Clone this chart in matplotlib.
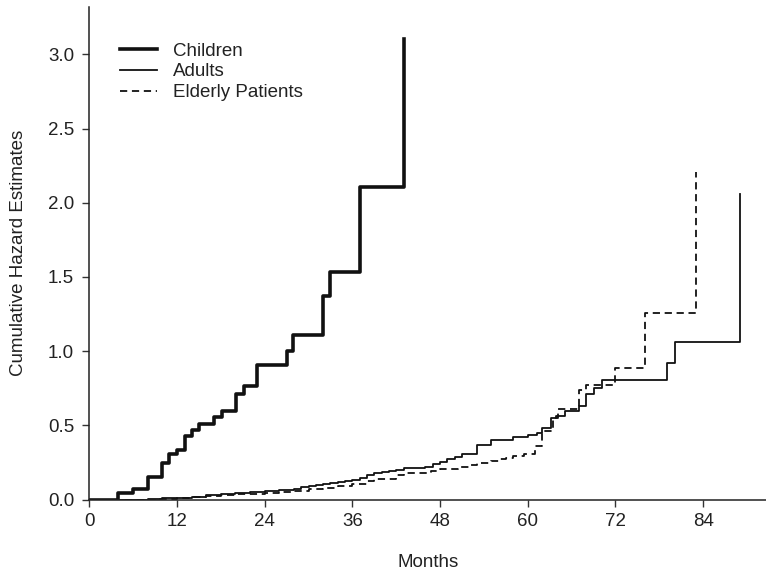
import matplotlib
matplotlib.use("Agg")
import matplotlib.pyplot as plt

plt.rcParams['font.family'] = ['Liberation Sans', 'DejaVu Sans']

# Cumulative hazard step functions (months, estimate after each step)
children_t = [0, 3.9, 6.0, 8.0, 10.0, 10.9, 12.0, 13.1, 14.1, 15.0, 17.1, 18.1,
              20.1, 21.1, 23.0, 27.1, 27.9, 32.0, 33.0, 37.0, 43.0]
children_h = [0.0, 0.042, 0.069, 0.15, 0.248, 0.305, 0.334, 0.43, 0.469, 0.507,
              0.555, 0.599, 0.71, 0.766, 0.908, 1.004, 1.11, 1.369, 1.537, 2.104, 3.105]

adults_t = [0, 8, 10, 12, 14, 16, 18, 20, 22, 24, 26, 28, 29, 30, 31, 32, 33, 34,
            35, 36, 37, 38, 39, 40, 41, 42, 43, 44, 46, 47, 48, 49, 50, 51, 53,
            55, 58, 60, 61.2, 62, 63.2, 63.9, 65.1, 67, 67.9, 69, 70.1, 79.1, 80.1, 89]
adults_h = [0.0, 0.003, 0.008, 0.013, 0.02, 0.028, 0.035, 0.041, 0.048, 0.055,
            0.062, 0.07, 0.085, 0.092, 0.098, 0.104, 0.11, 0.117, 0.124, 0.13,
            0.145, 0.165, 0.178, 0.186, 0.194, 0.2, 0.21, 0.214, 0.222, 0.24,
            0.255, 0.27, 0.285, 0.31, 0.365, 0.40, 0.42, 0.433, 0.45, 0.48,
            0.548, 0.566, 0.597, 0.63, 0.71, 0.75, 0.806, 0.919, 1.063, 2.061]

elderly_t = [0, 9, 12, 14, 16, 18, 20, 22, 24, 26, 28, 30, 32, 34, 36, 38, 39,
             42, 43, 46.8, 48, 50.5, 52, 53, 55, 56, 57, 58, 59.5, 61, 62, 63.4,
             64.2, 67, 68, 72, 76, 83]
elderly_h = [0.0, 0.003, 0.01, 0.016, 0.022, 0.028, 0.034, 0.04, 0.046, 0.052,
             0.06, 0.068, 0.078, 0.088, 0.103, 0.125, 0.138, 0.165, 0.18, 0.194,
             0.206, 0.22, 0.235, 0.244, 0.26, 0.27, 0.28, 0.29, 0.31, 0.36, 0.46,
             0.55, 0.61, 0.739, 0.77, 0.885, 1.26, 2.205]

x_ticks = [0, 12, 24, 36, 48, 60, 72, 84]
y_ticks = [0.0, 0.5, 1.0, 1.5, 2.0, 2.5, 3.0]

ink = '#111111'
fs = 13.5

fig = plt.figure(figsize=(7.66, 5.75), dpi=100)
ax = fig.add_axes([0.1166, 0.1313, 0.8834, 0.8565])

ax.step(children_t, children_h, where='post', color=ink, lw=2.6, label='Children')
ax.step(adults_t, adults_h, where='post', color=ink, lw=1.3, label='Adults')
ax.step(elderly_t, elderly_h, where='post', color=ink, lw=1.3,
        linestyle=(0, (4.0, 2.6)), label='Elderly Patients')

ax.set_xlim(0, 92.6)
ax.set_ylim(0, 3.32)
ax.set_xticks(x_ticks)
ax.set_yticks(y_ticks)
ax.set_xticklabels([str(v) for v in x_ticks], fontsize=fs, color='#222222')
ax.set_yticklabels([f'{v:.1f}' for v in y_ticks], fontsize=fs, color='#222222')
ax.tick_params(axis='both', direction='out', length=5, width=1.0, color='#333333')
ax.tick_params(axis='y', pad=6)
ax.tick_params(axis='x', pad=5)

for side in ('top', 'right'):
    ax.spines[side].set_visible(False)
for side in ('left', 'bottom'):
    ax.spines[side].set_color('#222222')
    ax.spines[side].set_linewidth(1.1)

ax.set_xlabel('Months', fontsize=fs, color='#222222', labelpad=17)
ax.set_ylabel('Cumulative Hazard Estimates', fontsize=fs, color='#222222', labelpad=15)

leg = ax.legend(loc='upper left', bbox_to_anchor=(0.045, 0.928), frameon=False,
                fontsize=fs, handlelength=2.0, handletextpad=0.85,
                labelspacing=0.2, borderpad=0, borderaxespad=0)
for t in leg.get_texts():
    t.set_color('#222222')

fig.savefig('out.png', dpi=100)
